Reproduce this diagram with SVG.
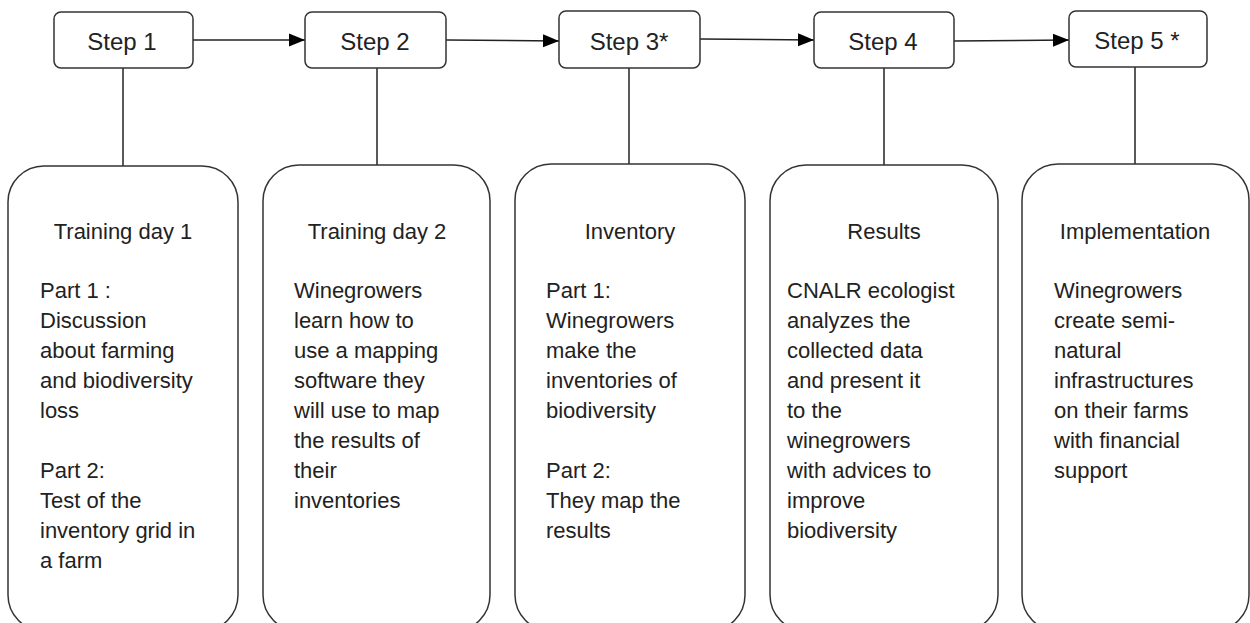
<svg xmlns="http://www.w3.org/2000/svg" width="1250" height="623" viewBox="0 0 1250 623">
<defs>
<marker id="arr" markerWidth="16" markerHeight="14" refX="16" refY="7" orient="auto" markerUnits="userSpaceOnUse">
<path d="M0,0.5 L16,7 L0,13.5 Z" fill="#000"/>
</marker>
<style>
.step{fill:#fff;stroke:#333;stroke-width:1.5}
.card{fill:#fff;stroke:#333;stroke-width:1.5}
.lbl{font-family:"Liberation Sans",Arial,sans-serif;font-size:24px;fill:#222;text-anchor:middle}
.ttl{font-family:"Liberation Sans",Arial,sans-serif;font-size:22px;fill:#222;text-anchor:middle}
.body{font-family:"Liberation Sans",Arial,sans-serif;font-size:22px;fill:#222}
.conn{stroke:#222;stroke-width:1.5;fill:none}
</style>
</defs>
<rect width="1250" height="623" fill="#fff"/>
<g id="connectors">
<line class="conn" x1="193" y1="40" x2="305" y2="40" marker-end="url(#arr)"/>
<line class="conn" x1="446" y1="40" x2="559" y2="41" marker-end="url(#arr)"/>
<line class="conn" x1="700" y1="39" x2="814" y2="40" marker-end="url(#arr)"/>
<line class="conn" x1="954" y1="41" x2="1069" y2="40" marker-end="url(#arr)"/>
<line class="conn" x1="123" y1="68" x2="123" y2="166"/>
<line class="conn" x1="377" y1="68" x2="377" y2="165"/>
<line class="conn" x1="629" y1="68" x2="629" y2="164"/>
<line class="conn" x1="884" y1="68" x2="884" y2="165"/>
<line class="conn" x1="1135" y1="67" x2="1135" y2="164"/>
</g>
<g id="step1"><rect class="step" x="54" y="12" width="139" height="56" rx="7"/><text class="lbl" x="122" y="50">Step 1</text></g>
<g id="step2"><rect class="step" x="305" y="12" width="141" height="56" rx="7"/><text class="lbl" x="375" y="50">Step 2</text></g>
<g id="step3"><rect class="step" x="559" y="11" width="141" height="57" rx="7"/><text class="lbl" x="629" y="50">Step 3*</text></g>
<g id="step4"><rect class="step" x="814" y="12" width="140" height="56" rx="7"/><text class="lbl" x="883" y="50">Step 4</text></g>
<g id="step5"><rect class="step" x="1069" y="11" width="138" height="56" rx="7"/><text class="lbl" x="1137" y="49">Step 5 *</text></g>
<g id="card1"><rect class="card" x="8" y="166" width="230" height="465" rx="36"/>
<text class="ttl" x="123" y="239">Training day 1</text>
<text class="body"><tspan x="40" y="298">Part 1 :</tspan><tspan x="40" y="328">Discussion</tspan><tspan x="40" y="358">about farming</tspan><tspan x="40" y="388">and biodiversity</tspan><tspan x="40" y="418">loss</tspan><tspan x="40" y="478">Part 2:</tspan><tspan x="40" y="508">Test of the</tspan><tspan x="40" y="538">inventory grid in</tspan><tspan x="40" y="568">a farm</tspan></text></g>
<g id="card2"><rect class="card" x="263" y="165" width="227" height="466" rx="36"/>
<text class="ttl" x="377" y="239">Training day 2</text>
<text class="body"><tspan x="294" y="298">Winegrowers</tspan><tspan x="294" y="328">learn how to</tspan><tspan x="294" y="358">use a mapping</tspan><tspan x="294" y="388">software they</tspan><tspan x="294" y="418">will use to map</tspan><tspan x="294" y="448">the results of</tspan><tspan x="294" y="478">their</tspan><tspan x="294" y="508">inventories</tspan></text></g>
<g id="card3"><rect class="card" x="515" y="164" width="230" height="467" rx="36"/>
<text class="ttl" x="630" y="239">Inventory</text>
<text class="body"><tspan x="546" y="298">Part 1:</tspan><tspan x="546" y="328">Winegrowers</tspan><tspan x="546" y="358">make the</tspan><tspan x="546" y="388">inventories of</tspan><tspan x="546" y="418">biodiversity</tspan><tspan x="546" y="478">Part 2:</tspan><tspan x="546" y="508">They map the</tspan><tspan x="546" y="538">results</tspan></text></g>
<g id="card4"><rect class="card" x="770" y="165" width="228" height="466" rx="36"/>
<text class="ttl" x="884" y="239">Results</text>
<text class="body"><tspan x="787" y="298">CNALR ecologist</tspan><tspan x="787" y="328">analyzes the</tspan><tspan x="787" y="358">collected data</tspan><tspan x="787" y="388">and present it</tspan><tspan x="787" y="418">to the</tspan><tspan x="787" y="448">winegrowers</tspan><tspan x="787" y="478">with advices to</tspan><tspan x="787" y="508">improve</tspan><tspan x="787" y="538">biodiversity</tspan></text></g>
<g id="card5"><rect class="card" x="1022" y="164" width="227" height="467" rx="36"/>
<text class="ttl" x="1135" y="239">Implementation</text>
<text class="body"><tspan x="1054" y="298">Winegrowers</tspan><tspan x="1054" y="328">create semi-</tspan><tspan x="1054" y="358">natural</tspan><tspan x="1054" y="388">infrastructures</tspan><tspan x="1054" y="418">on their farms</tspan><tspan x="1054" y="448">with financial</tspan><tspan x="1054" y="478">support</tspan></text></g>
</svg>
